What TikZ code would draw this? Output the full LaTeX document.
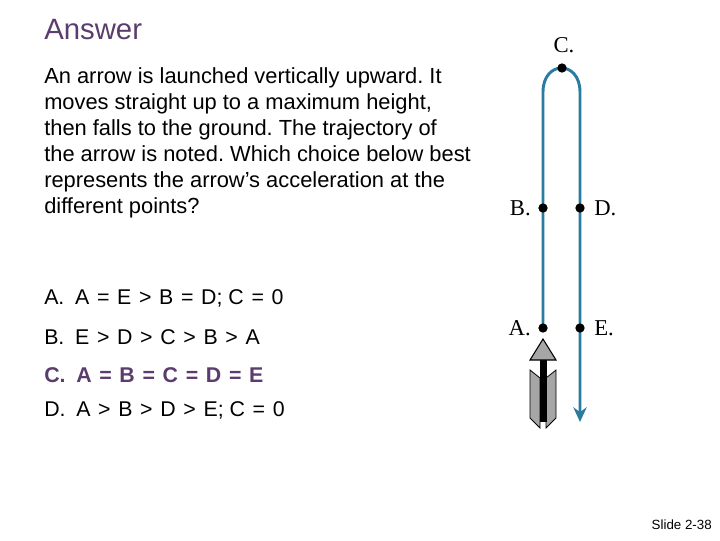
\documentclass[tikz,border=0pt]{standalone}
\usepackage{fontspec}
\usetikzlibrary{arrows.meta}
\setmainfont{Liberation Sans}
\setmonofont{Liberation Serif}
\definecolor{ttl}{HTML}{5B3C6E}
\definecolor{path}{HTML}{2A7BA0}
\newcommand{\gp}{\hspace{0.36em}}
\begin{document}
\frenchspacing
\begin{tikzpicture}[x=0.75pt,y=-0.75pt,
  body/.style={anchor=west,inner sep=0,font=\fontsize{16}{19.5}\selectfont},
  lab/.style={font=\ttfamily\fontsize{17}{20}\selectfont,inner sep=0},
  dot/.style={circle,fill=black,inner sep=0,minimum size=7pt}]
\useasboundingbox (0,0) rectangle (720,540);
\node[anchor=west,inner sep=0,text=ttl,font=\fontsize{22}{26}\selectfont] (title) at (44,30) {Answer};
\node[anchor=north west,inner sep=0,align=left,font=\fontsize{16.4}{19.6}\selectfont] (q) at (44,67)
{An arrow is launched vertically upward. It\\moves straight up to a maximum height,\\then falls to the ground. The trajectory of\\the arrow is noted. Which choice below best\\represents the arrow’s acceleration at the\\different points?};
\node[body] (oa) at (44,298) {A.\enspace A\gp=\gp E\gp>\gp B\gp=\gp D; C\gp=\gp 0};
\node[body] (ob) at (44,337) {B.\enspace E\gp>\gp D\gp>\gp C\gp>\gp B\gp>\gp A};
\node[body,text=ttl,font=\bfseries\fontsize{16}{19.5}\selectfont] (oc) at (44,375) {C.\enspace A\gp=\gp B\gp=\gp C\gp=\gp D\gp=\gp E};
\node[body] (od) at (44,410) {D.\enspace A\gp>\gp B\gp>\gp D\gp>\gp E; C\gp=\gp 0};
\node[anchor=east,inner sep=0,font=\fontsize{10}{12}\selectfont] (slide) at (712,525) {Slide 2-38};
% path
\coordinate (ps) at (543,328);
\coordinate (pe) at (580,422);
\draw[path,line width=2.2pt,-{Stealth[length=11pt,width=10pt]}] (ps) -- (543,92) .. controls (543,60) and (580,60) .. (580,92) -- (pe);
\node[dot] (C) at (562,68) {};
\node[dot] (A) at (543,328) {};
\node[dot] (B) at (543,208) {};
\node[dot] (D) at (580,208) {};
\node[dot] (E) at (580,328) {};
\node[lab] at (564,45) {C.};
\node[lab,anchor=east] at (531,208) {B.};
\node[lab,anchor=west] at (594,208) {D.};
\node[lab,anchor=east] at (531,328) {A.};
\node[lab,anchor=west] at (594,328) {E.};
% arrow projectile
\fill[gray!70,draw=black,line width=0.6pt] (530,370) -- (540,378) -- (540,428) -- (530,418) -- cycle;
\fill[gray!70,draw=black,line width=0.6pt] (556,370) -- (546,378) -- (546,428) -- (556,418) -- cycle;
\fill[black] (539.5,358) rectangle (546.5,422);
\fill[gray!70,draw=black,line width=0.8pt] (543,339) -- (556,360) -- (530,360) -- cycle;
\end{tikzpicture}
\end{document}
